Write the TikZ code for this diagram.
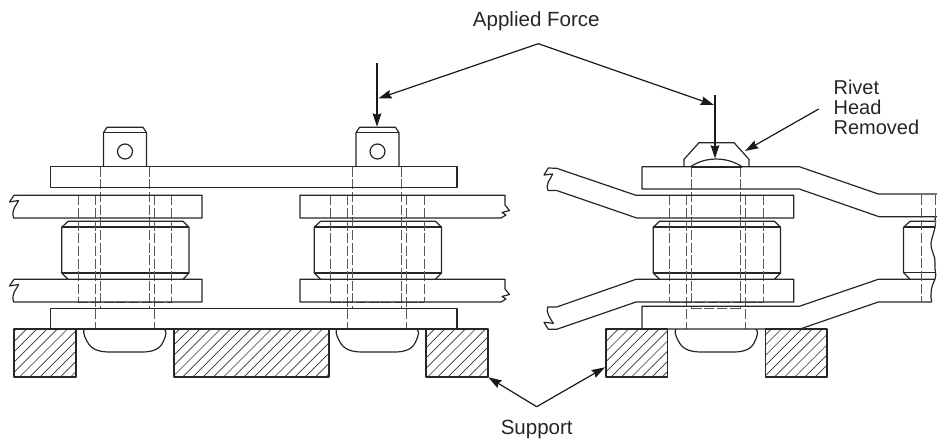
\documentclass[tikz,border=0pt]{standalone}
\usepackage{fontspec}
\setmainfont{Liberation Sans}
\usetikzlibrary{arrows.meta}
\tikzset{
    part/.style={line width=0.9pt, black!85, line join=round},
    heavy/.style={line width=1.5pt, black!85},
    hidden/.style={line width=0.75pt, black!65, dash pattern=on 7.5pt off 2pt},
    hatchline/.style={line width=0.5pt, black!80},
    pointer/.style={line width=0.9pt, black!90, -{Stealth[length=10pt,width=6.5pt,inset=1.2pt]}},
    caption/.style={font=\fontsize{15}{20}\selectfont, anchor=base, inner sep=0pt, black!85},
    bigcaption/.style={caption, font=\fontsize{15.4}{20}\selectfont}
}
\begin{document}
\begin{tikzpicture}[x=0.75pt,y=-0.75pt]
        \useasboundingbox (0,0) rectangle (937,439);

        % Hatching of the supports
        \begin{scope}
            \clip (14,329) rectangle (76,377) (174,329) rectangle (329,377)
                  (426,329) rectangle (488,377) (606,329) rectangle (667.3,377)
                  (765.3,329) rectangle (827,377);
            \foreach \k in {-1,0,...,84} {
                \pgfmathsetmacro{\c}{26.7 + 10.2*\k}
                \draw[hatchline] (\c,329) -- (\c-48,377);
            }
        \end{scope}

        % Outline of the supports
        \foreach \a/\b in {14/76, 174/329, 426/488, 606/667.3, 765.3/827} {
            \draw[part] (\a,329) rectangle (\b,377);
        }

        % Roller, hidden lines and rivet end of each joint
        \foreach \dx in {0,252.5,591.5} {
            \begin{scope}[shift={(\dx,0)}]
                % Roller
                \draw[part] (68,279.3) -- (61.7,273) -- (61.7,227.3) -- (68,221.3) -- (183,221.3)
                    -- (189,227.3) -- (189,273) -- (183,279.3);
                \draw[heavy] (61.7,227.3) -- (189,227.3);
                \draw[part] (61.7,273) -- (189,273);
                % Hidden lines
                \foreach \x in {78.3,171.7} {
                    \draw[hidden] (\x,195.3) -- (\x,302);
                }
                \foreach \x in {95.3,154.3} {
                    \draw[hidden] (\x,195.3) -- (\x,329);
                }
                \foreach \x in {100.3,149} {
                    \draw[hidden] (\x,166.7) -- (\x,308.7);
                }
                \draw[hidden] (78.3,302) -- (171.7,302);
                \draw[hidden] (100.3,308.7) -- (149,308.7);
                % Rivet end
                \draw[part] (84.7,329) .. controls (83,331) and (83,334) .. (87.3,341.7)
                    .. controls (91,349) and (98,352) .. (110,352) -- (142,352)
                    .. controls (153,352) and (160,349) .. (163,342)
                    .. controls (166.5,335) and (167,331) .. (164,329);
            \end{scope}
        }

        % Straight plates, links and pin ends of the first two joints
        \draw[part] (50.5,166.7) rectangle (457,187.3);
        \draw[part] (50.5,329) -- (50.5,308.7) -- (457,308.7) -- (457,329) -- cycle;
        \foreach \dx in {0,252.5} {
            \begin{scope}[shift={(\dx,0)}]
                \draw[part] (103.5,166.7) -- (103.5,132.7) -- (107,127.3) -- (143,127.3)
                    -- (146.5,132.7) -- (146.5,166.7);
                \draw[part] (103.5,132.7) -- (146.5,132.7);
                \draw[part] (125,151.5) circle (7.5);
            \end{scope}
        }
        \foreach \y in {195.3,279.3} {
            \begin{scope}[shift={(0,\y-195.3)}]
                % Left link
                \draw[part] (202,195.3) -- (14,195.3) -- (9.5,202) -- (18.5,200.5)
                    .. controls (17,205) and (11,209) .. (13.5,218) -- (202,218) -- cycle;
                % Right link
                \draw[part] (505,195.3) -- (300,195.3) -- (300,218) -- (501,218) -- (506,215)
                    -- (502,212.5) -- (509.5,210.5) -- (505,205) -- cycle;
            \end{scope}
        }

        % Third joint, upper link
        \draw[part] (793.7,195.3) -- (636,195.3) -- (556.7,168.3) -- (548.3,168) -- (544,175)
            -- (552.7,174) .. controls (551,179) and (545,183) .. (548,190.5) -- (556.7,190.5)
            -- (636.7,218) -- (793.7,218) -- cycle;
        % Third joint, lower link
        \draw[part] (793.7,279.3) -- (636,279.3) -- (556.7,307) -- (547.5,307)
            .. controls (546,313) and (550,318) .. (553.3,323.3) -- (544,322.3) -- (548.3,329.3)
            -- (556.7,329.3) -- (636,302) -- (793.7,302) -- cycle;
        % Cranked plates
        \draw[part] (937,194) -- (878.3,194) -- (799.3,166.7) -- (642,166.7) -- (642,189)
            -- (799.3,189) -- (879,216.7) -- (937,216.7);
        \draw[part] (935,279.3) -- (878.3,279.3) -- (799.3,306.3) -- (642,306.3) -- (642,329)
            -- (800,329) -- (878.3,302) -- (931.7,302);
        % Rivet head removed
        \draw[part] (684,166.7) -- (684,159.3) -- (699,142.7) -- (734,142.7) -- (749,159.3)
            -- (749,166.7);
        \draw[part] (690.7,166.7) .. controls (705,156.5) and (727,156.5) .. (742,166.7);
        \draw[heavy] (690.7,166.7) -- (742,166.7);

        % Fourth joint, cut off
        \draw[part] (935,221.3) -- (910,221.3) -- (903.5,227.3) -- (903.5,272.5) -- (910,279.3);
        \draw[heavy] (903.5,227.3) -- (935,227.3);
        \draw[part] (903.5,272.5) -- (935,272.5);
        \draw[part] (935,216.7) .. controls (937,228) and (932,235) .. (931,243)
            .. controls (930,250) and (936,256) .. (935,263)
            .. controls (934,270) and (937,272) .. (935,279.3)
            .. controls (931,287) and (930,294) .. (931.7,302);
        \draw[hidden] (921.7,195) -- (921.7,302);
        \draw[hidden] (935.3,195) -- (935.3,225);

        % Labels
        \node[bigcaption] (force) at (536.3,26.7) {Applied Force};
        \node[caption] (rivet) at (833.3,94) [anchor=base west] {Rivet};
        \node[caption] (head) at (833.3,114) [anchor=base west] {Head};
        \node[caption] (removed) at (833.3,134) [anchor=base west] {Removed};
        \node[bigcaption] (support) at (536.7,434.5) {Support};

        % Points the leaders start from and end at
        \coordinate (forceFork) at (538.3,43.7);
        \coordinate (forceTipA) at (378.3,98.5);
        \coordinate (forceTipB) at (714,105);
        \coordinate (pinTopA) at (377,62.7);
        \coordinate (pinEndA) at (377,126.7);
        \coordinate (pinTopB) at (715,95);
        \coordinate (pinEndB) at (715,158.5);
        \coordinate (rivetStart) at (818.7,109);
        \coordinate (rivetTip) at (745,151);
        \coordinate (supportFork) at (536.7,406.7);
        \coordinate (supportTipA) at (488.3,377.3);
        \coordinate (supportTipB) at (605,367.3);

        % Leaders
        \draw[pointer] (forceFork) -- (forceTipA);
        \draw[pointer] (forceFork) -- (forceTipB);
        \draw[pointer] (pinTopA) -- (pinEndA);
        \draw[pointer] (pinTopB) -- (pinEndB);
        \draw[pointer] (rivetStart) -- (rivetTip);
        \draw[pointer] (supportFork) -- (supportTipA);
        \draw[pointer] (supportFork) -- (supportTipB);
    \end{tikzpicture}
\end{document}
